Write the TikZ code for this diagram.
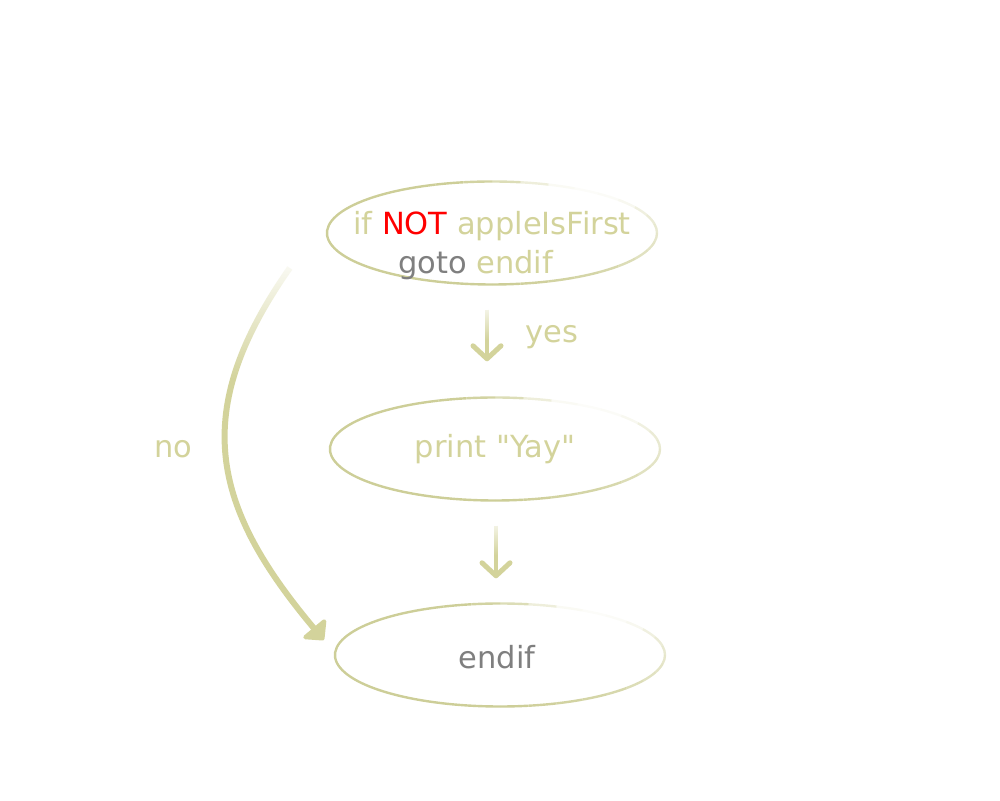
\documentclass[tikz,border=0pt]{standalone}
\usepackage{fontspec}
\setmainfont{DejaVu Sans}[Ligatures=TeXOff]
\usepackage{xcolor}
\usetikzlibrary{arrows.meta,positioning,shapes.geometric,fadings}
\definecolor{olivec}{HTML}{D3D39B}
\definecolor{rimc}{HTML}{CDCE98}
\definecolor{grayc}{HTML}{7F7F7F}
\definecolor{notc}{HTML}{FF0000}
\tikzfading[name=whiteout,top color=transparent!0,bottom color=transparent!100]
\tikzset{
  state/.style={ellipse,minimum width=330pt,minimum height=103pt,inner sep=0pt},
  rim/.style={rimc,line width=2.4pt},
  txt/.style={olivec,font=\fontsize{30.5pt}{39pt}\selectfont,inner sep=0pt},
  flow/.style={-{Straight Barb[length=13pt,width=28pt,line width=5pt,round]},line width=3.5pt,olivec},
  jump/.style={-{Triangle[length=17pt,width=34pt,round]},line width=6pt,olivec},
  veil/.style={white,path fading=whiteout}
}

\begin{document}
\begin{tikzpicture}[x=1pt,y=1pt]
\useasboundingbox (0,0) rectangle (1000,800);
% the three states
\node[state] (top) at (492,567) {};
\node[state] (mid) at (495,351) {};
\node[state] (bot) at (500,145) {};
% rims, fading out at the upper right
\foreach \s in {top,mid,bot}{
  \draw[rim] ([shift={(110:165 and 51.5)}]\s.center) arc[start angle=110,end angle=270,x radius=165,y radius=51.5];
  \foreach \a/\o in {-90/1,-80/.95,-70/.9,-60/.85,-50/.8,-40/.7,-30/.6,-20/.55,-10/.5,0/.45,
                     10/.4,20/.3,30/.15,40/.08,50/.06,60/.1,70/.35,80/.7,90/.9,100/1}
    \draw[rim,opacity=\o] ([shift={(\a:165 and 51.5)}]\s.center) arc[start angle=\a,end angle=\a+10,x radius=165,y radius=51.5];
}
% texts
\node[txt,align=left] (cond) at ([yshift=-13]top.center) {if \textcolor{notc}{NOT} appleIsFirst\\\hspace*{45pt}\textcolor{grayc}{goto} endif};
\node[txt] (yay) at (mid.center) {print "Yay"};
\node[txt,grayc] (fin) at ([shift={(-3,-2)}]bot.center) {endif};
% connectors
\draw[flow] ([shift={(-5,-25)}]top.south) -- ([shift={(-8,36)}]mid.north);
\draw[flow] ([shift={(1,-25)}]mid.south) -- ([shift={(-4,25)}]bot.north);
\draw[jump] ([shift={(-37,-35)}]top.west) to[out=235,in=130,looseness=1.2] ([shift={(-11,15)}]bot.west);
% faded starts
\fill[veil] (478,500) rectangle (496,460);
\fill[veil] (487,285) rectangle (505,245);
\fill[veil] (212,550) rectangle (300,420);
\node[txt] (yes) at (552,463) {yes};
\node[txt] (no) at (173,351) {no};
\end{tikzpicture}
\end{document}
